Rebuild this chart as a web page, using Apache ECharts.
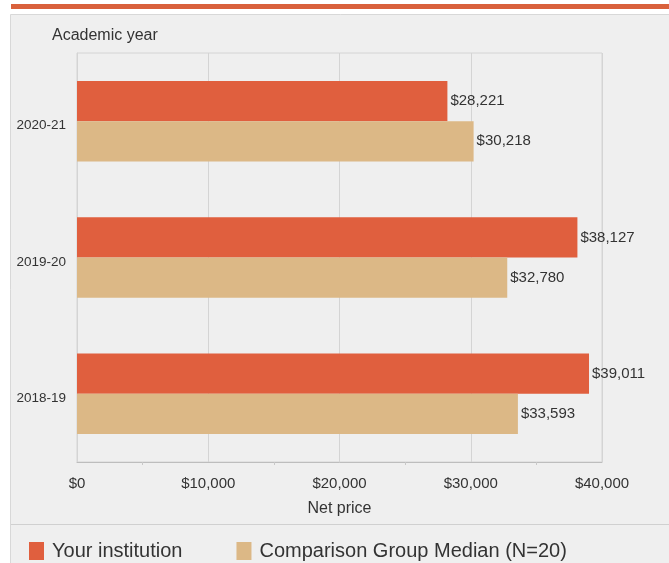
<!DOCTYPE html>
<html>
<head>
<meta charset="utf-8">
<script src="https://cdn.jsdelivr.net/npm/echarts@6/dist/echarts.min.js"></script>
<style>
html,body{margin:0;padding:0;background:#ffffff;}
#chart{width:669px;height:563px;}
</style>
</head>
<body>
<div id="chart"></div>
<script>
const categories = ['2020-21', '2019-20', '2018-19'];
const yourInstitution = [28221, 38127, 39011];
const comparisonMedian = [30218, 32780, 33593];
const xTicks = [0, 10000, 20000, 30000, 40000];
const seriesNames = ['Your institution', 'Comparison Group Median (N=20)'];

const FONT = '"Liberation Sans", Arial, Helvetica, sans-serif';
const fmt = v => '$' + Number(v).toLocaleString('en-US');

const chart = echarts.init(document.getElementById('chart'), null, {renderer: 'canvas'});
chart.setOption({
  animation: false,
  backgroundColor: '#ffffff',
  textStyle: {fontFamily: FONT, color: '#333'},
  graphic: [
    {type: 'rect', z: -10, shape: {x: 11, y: 4, width: 660, height: 5}, style: {fill: '#d9613c'}},
    {type: 'rect', z: -10, shape: {x: 10.5, y: 14.5, width: 670, height: 560}, style: {fill: '#efefef', stroke: '#d8d8d8', lineWidth: 1}},
    {type: 'line', z: -9, shape: {x1: 11, y1: 524.5, x2: 669, y2: 524.5}, style: {stroke: '#d0d0d0', lineWidth: 1}}
  ],
  title: {
    text: 'Academic year', left: 47, top: 23,
    textStyle: {fontFamily: FONT, fontSize: 16, fontWeight: 'normal', color: '#333'}
  },
  legend: {
    data: seriesNames, left: 24, top: 536, itemWidth: 15, itemHeight: 18, itemGap: 54,
    icon: 'rect',
    textStyle: {fontFamily: FONT, fontSize: 20, color: '#333', padding: [0, 0, 0, 3]}
  },
  grid: {
    left: 77, right: 67, top: 53, bottom: 101, show: true,
    borderColor: '#d4d4d4', borderWidth: 1, backgroundColor: 'transparent'
  },
  xAxis: {
    type: 'value', min: 0, max: 40000, interval: 10000,
    name: 'Net price', nameLocation: 'middle', nameGap: 39,
    nameTextStyle: {fontFamily: FONT, fontSize: 16, color: '#333'},
    axisLine: {show: true, lineStyle: {color: '#bdbdbd'}},
    axisTick: {show: false},
    minorTick: {show: true, splitNumber: 2, length: 3, lineStyle: {color: '#c8c8c8'}},
    axisLabel: {fontFamily: FONT, fontSize: 15, color: '#333', margin: 14, formatter: v => fmt(v)},
    splitLine: {show: true, lineStyle: {color: '#d4d4d4'}}
  },
  yAxis: {
    type: 'category', data: categories, inverse: true,
    axisLine: {show: true, lineStyle: {color: '#d4d4d4'}},
    axisTick: {show: false},
    axisLabel: {
      fontFamily: FONT, fontSize: 13.5, color: '#333', margin: 11,
      formatter: v => '{c|' + v + '}',
      rich: {c: {fontFamily: FONT, fontSize: 13.5, color: '#333', padding: [9, 0, 0, 0]}}
    }
  },
  series: [
    {
      name: seriesNames[0], type: 'bar', data: yourInstitution,
      barGap: '0%', barCategoryGap: '41%',
      itemStyle: {color: '#e05f3e'},
      label: {show: true, position: 'right', distance: 3, fontFamily: FONT, fontSize: 15, color: '#333', formatter: p => fmt(p.value)}
    },
    {
      name: seriesNames[1], type: 'bar', data: comparisonMedian,
      barGap: '0%', barCategoryGap: '41%',
      itemStyle: {color: '#dcb886'},
      label: {show: true, position: 'right', distance: 3, fontFamily: FONT, fontSize: 15, color: '#333', formatter: p => fmt(p.value)}
    }
  ]
});
</script>
</body>
</html>
